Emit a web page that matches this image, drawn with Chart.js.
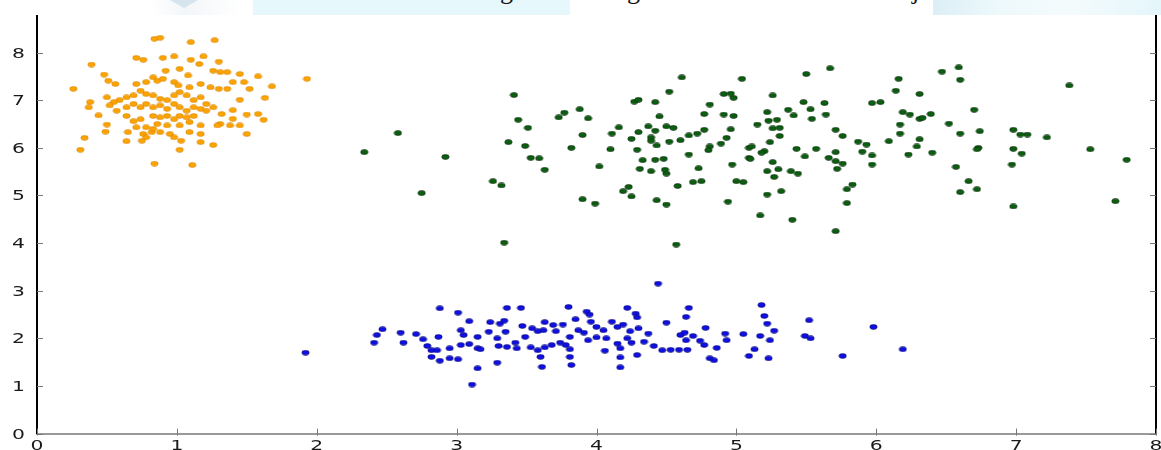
<!DOCTYPE html>
<html>
<head>
<meta charset="utf-8">
<script src="https://cdn.jsdelivr.net/npm/chart.js@4.4.1/dist/chart.umd.min.js"></script>
<style>
  html, body { margin: 0; padding: 0; background: #fff; }
  #wrap { position: relative; width: 1161px; height: 450px; overflow: hidden; }
  #myChart { display: block; }
  #strip { position: absolute; left: 0; top: 0; width: 1161px; height: 15px; background: #fff; }
  #banner1 { position: absolute; left: 253px; top: 0; width: 317px; height: 15px; background: #e6f8fc; }
  #banner2 { position: absolute; left: 933px; top: 0; width: 228px; height: 15px;
             background: linear-gradient(90deg, #dceef6 0%, #eef9fc 30%, #f4fbfc 60%, #e4f6fb 100%); }
  #pale { position: absolute; left: 150px; top: 0; width: 90px; height: 15px;
          background: linear-gradient(90deg, rgba(240,244,248,0) 0%, #f3f6f9 40%, rgba(240,244,248,0) 100%); }
  #arrow { position: absolute; left: 170px; top: 0; width: 0; height: 0;
           border-left: 14px solid transparent; border-right: 14px solid transparent; border-top: 8px solid #d6e4ee; }
  .desc { position: absolute; top: -24px; font: 26px/30px "Liberation Serif", serif; color: #111; }
</style>
</head>
<body>
<div id="wrap">
  <canvas id="myChart" width="1161" height="450"></canvas>
  <div id="strip"></div>
  <div id="pale"></div>
  <div id="arrow"></div>
  <div id="banner1"></div>
  <div id="banner2"></div>
  <span class="desc" style="left:500px">g</span>
  <span class="desc" style="left:627px">g</span>
  <span class="desc" style="left:912px">j</span>
</div>
<script>
// tick labels
const xTicks = [0, 1, 2, 3, 4, 5, 6, 7, 8];
const yTicks = [0, 1, 2, 3, 4, 5, 6, 7, 8];

// cluster points, [x, y]
const orangePts = [
  [0.84,8.29],[0.88,8.31],[1.10,8.22],[1.27,8.26],[0.26,7.24],[0.39,7.75],[0.48,7.54],[0.31,5.96],
  [0.34,6.21],[0.37,6.85],[0.38,6.96],[0.44,6.68],[0.50,6.49],[0.49,6.34],[0.84,5.67],[1.11,5.64],
  [1.02,5.96],[1.26,6.06],[1.50,6.29],[1.63,7.05],[1.68,7.29],[1.58,7.50],[1.45,7.55],[1.62,6.59],
  [1.58,6.71],[1.50,6.70],[1.93,7.45],[1.30,7.81],[1.19,7.92],[1.10,7.85],[0.98,7.92],[0.90,7.89],
  [0.71,7.89],[0.76,7.85],[1.02,7.66],[1.16,7.76],[1.26,7.62],[1.31,7.59],[1.36,7.59],[1.08,7.52],
  [0.92,7.62],[0.83,7.48],[0.56,7.34],[0.51,7.41],[0.71,7.34],[0.78,7.38],[0.86,7.41],[0.90,7.45],
  [0.98,7.38],[1.01,7.31],[1.09,7.27],[1.17,7.34],[1.24,7.27],[1.30,7.24],[1.36,7.24],[1.40,7.38],
  [1.48,7.38],[1.52,7.24],[1.45,7.01],[1.40,6.79],[1.32,6.71],[1.38,6.47],[1.31,6.50],[1.45,6.47],
  [1.26,6.85],[1.21,6.92],[1.17,7.06],[1.12,7.00],[1.07,7.10],[1.02,7.17],[0.98,7.10],[0.93,7.00],
  [0.88,7.03],[0.83,7.10],[0.78,7.13],[0.74,7.20],[0.69,7.10],[0.64,7.06],[0.59,7.00],[0.55,6.96],
  [0.50,7.06],[0.52,6.89],[0.57,6.78],[0.64,6.85],[0.69,6.92],[0.74,6.85],[0.78,6.92],[0.83,6.85],
  [0.88,6.89],[0.93,6.82],[0.98,6.92],[1.02,6.85],[1.07,6.78],[1.12,6.85],[1.17,6.82],[1.21,6.78],
  [1.02,6.67],[1.07,6.64],[1.12,6.67],[0.98,6.60],[0.93,6.67],[0.88,6.64],[0.83,6.67],[0.74,6.60],
  [0.69,6.56],[0.64,6.67],[0.71,6.43],[0.78,6.43],[0.86,6.50],[0.93,6.47],[1.02,6.47],[1.09,6.54],
  [1.17,6.47],[0.65,6.33],[0.76,6.29],[0.82,6.33],[0.88,6.33],[0.95,6.29],[0.98,6.22],[1.03,6.15],
  [1.09,6.33],[1.17,6.29],[1.17,6.12],[0.78,6.22],[0.75,6.15],[0.64,6.14],[0.83,6.40],[1.29,6.47],
  [1.40,6.61]
];

const greenPts = [
  [2.34,5.91],[2.58,6.31],[2.92,5.81],[2.75,5.05],[3.41,7.11],[3.44,6.59],[3.51,6.42],[3.37,6.12],
  [3.49,6.04],[3.53,5.79],[3.59,5.78],[3.63,5.54],[3.26,5.30],[3.32,5.21],[3.34,4.01],[3.73,6.64],
  [3.77,6.74],[3.88,6.81],[3.94,6.62],[3.90,6.27],[3.82,6.00],[4.02,5.61],[3.90,4.92],[3.99,4.83],
  [4.10,5.97],[4.11,6.30],[4.16,6.43],[4.25,6.19],[4.29,5.96],[4.30,6.33],[4.27,6.97],[4.30,7.01],
  [4.42,6.96],[4.52,7.18],[4.61,7.48],[4.45,6.66],[4.37,6.45],[4.42,6.36],[4.50,6.45],[4.55,6.42],
  [4.39,6.22],[4.39,6.15],[4.43,6.05],[4.52,6.13],[4.60,6.16],[4.66,6.26],[4.72,6.30],[4.77,6.38],
  [4.66,5.86],[4.33,5.74],[4.42,5.75],[4.48,5.77],[4.31,5.56],[4.39,5.51],[4.49,5.54],[4.50,5.46],
  [4.73,5.57],[4.58,5.20],[4.69,5.28],[4.75,5.30],[4.23,5.18],[4.19,5.09],[4.25,4.98],[4.43,4.90],
  [4.50,4.81],[4.57,3.97],[4.81,6.91],[4.77,6.71],[4.91,7.13],[4.96,7.14],[4.98,7.05],[5.04,7.45],
  [4.91,6.70],[4.98,6.67],[4.96,6.39],[4.93,6.21],[4.89,6.09],[4.81,6.03],[4.80,5.95],[4.97,5.65],
  [5.00,5.30],[5.05,5.28],[4.94,4.87],[5.09,6.00],[5.09,5.79],
  [5.50,7.55],[5.67,7.67],[5.26,7.10],[5.48,6.96],[5.63,6.94],[5.37,6.80],[5.53,6.81],[5.41,6.68],
  [5.22,6.75],[5.23,6.57],[5.29,6.59],[5.15,6.49],[5.31,6.42],[5.26,6.41],[5.54,6.61],[5.64,6.70],
  [5.71,6.38],[5.76,6.25],[5.31,6.25],[5.11,6.03],[5.24,6.12],[5.20,5.93],[5.18,5.90],[5.10,5.77],
  [5.26,5.70],[5.22,5.51],[5.30,5.55],[5.27,5.39],[5.39,5.51],[5.44,5.46],[5.32,5.09],[5.22,5.02],
  [5.17,4.58],[5.40,4.49],[5.43,5.98],[5.49,5.82],[5.57,5.98],[5.71,5.91],[5.66,5.79],[5.71,5.72],
  [5.76,5.67],[5.72,5.56],[5.71,4.25],[5.79,5.13],[5.83,5.23],[5.79,4.84],[5.87,6.13],[5.93,6.07],
  [5.90,5.92],[5.97,5.84],[5.97,5.65],[5.97,6.94],[6.03,6.96],[6.09,6.14],[6.17,6.30],[6.17,6.49],
  [6.19,6.75],[6.24,6.70],[6.31,6.61],[6.33,6.63],[6.39,6.71],[6.14,7.20],[6.16,7.45],[6.31,7.13],
  [6.31,6.18],[6.29,6.03],[6.23,5.86],[6.40,5.90],[6.47,7.60],[6.59,7.69],[6.60,7.43],[6.52,6.51],
  [6.70,6.80],[6.60,6.30],[6.74,6.35],[6.73,6.00],[6.72,5.97],[6.57,5.60],[6.66,5.30],[6.72,5.13],
  [6.60,5.07],[6.98,6.38],[7.03,6.28],[7.08,6.28],[7.22,6.22],[6.98,5.98],[7.04,5.88],[6.97,5.65],
  [6.98,4.77],[7.38,7.31],[7.53,5.97],[7.79,5.75],[7.71,4.88]
];

const bluePts = [
  [1.92,1.70],[4.44,3.15],[2.88,2.63],[3.01,2.54],[3.09,2.36],[3.36,2.64],[3.46,2.64],[3.80,2.66],
  [3.93,2.56],[3.95,2.50],[4.22,2.64],[4.28,2.52],[4.29,2.44],[4.66,2.64],[4.64,2.45],[4.50,2.33],
  [3.85,2.40],[3.63,2.34],[3.24,2.34],[3.31,2.31],[3.34,2.37],[2.47,2.19],[2.43,2.07],[2.41,1.91],
  [2.60,2.12],[2.62,1.91],[2.71,2.09],[2.76,1.98],[2.87,2.03],[2.79,1.84],[2.82,1.75],[2.86,1.75],
  [2.82,1.61],[2.88,1.53],[2.95,1.79],[2.95,1.58],[3.01,1.56],[3.03,2.17],[3.05,2.07],[3.03,1.86],
  [3.09,1.88],[3.15,2.03],[3.15,1.79],[3.17,1.77],[3.15,1.37],[3.11,1.03],[3.23,2.14],[3.29,2.00],
  [3.35,2.14],[3.30,1.84],[3.36,1.82],[3.42,1.91],[3.43,1.79],[3.29,1.49],[3.47,2.26],[3.49,2.03],
  [3.54,2.21],[3.58,2.15],[3.62,2.17],[3.53,1.81],[3.58,1.75],[3.60,1.61],[3.61,1.40],[3.63,1.81],
  [3.68,1.86],[3.69,2.28],[3.71,2.15],[3.76,2.29],[3.74,1.91],[3.78,1.86],[3.81,1.77],[3.81,1.61],
  [3.82,1.44],[3.81,2.03],[3.87,2.17],[3.91,2.12],[3.96,2.35],[4.00,2.24],[4.05,2.17],[4.11,2.35],
  [4.15,2.24],[4.19,2.29],[4.24,2.15],[4.30,2.21],[3.94,1.96],[4.00,2.02],[4.07,2.00],[4.06,1.74],
  [4.15,1.89],[4.17,1.79],[4.17,1.60],[4.17,1.39],[4.22,2.00],[4.25,1.91],[4.29,1.65],[4.34,1.93],
  [4.37,2.10],[4.41,1.84],[4.47,1.75],[4.53,1.76],[4.59,1.76],[4.65,1.76],[4.60,2.07],[4.63,2.12],
  [4.69,2.05],[4.64,1.96],[4.78,2.22],[4.74,1.95],[4.77,1.86],[4.86,1.80],[4.81,1.58],[4.84,1.54],
  [4.92,2.10],[4.93,1.96],[5.05,2.09],[5.13,1.77],[5.09,1.63],[5.18,2.70],[5.20,2.47],[5.22,2.31],
  [5.27,2.16],[5.17,2.05],[5.24,1.96],[5.23,1.58],[5.52,2.38],[5.49,2.05],[5.53,2.00],[5.76,1.63],
  [5.98,2.24],[6.19,1.77]
];

function toXY(pts) {
  return pts.map(p => ({ x: p[0], y: p[1] }));
}

// small squashed dot, like the stretched scatter markers in the picture
function dot(fill, edge) {
  const c = document.createElement('canvas');
  c.width = 9; c.height = 6;
  const g = c.getContext('2d');
  g.beginPath();
  g.ellipse(4.5, 3, 3.7, 2.4, 0, 0, Math.PI * 2);
  g.fillStyle = fill;
  g.fill();
  g.lineWidth = 0.8;
  g.strokeStyle = edge;
  g.stroke();
  return c;
}

// right spine, inward ticks and the (horizontally stretched) tick labels
const frame = {
  id: 'frame',
  afterDraw(chart) {
    const ctx = chart.ctx;
    const a = chart.chartArea;
    const xs = chart.scales.x, ys = chart.scales.y;
    ctx.save();
    ctx.strokeStyle = '#000';
    ctx.lineWidth = 2;
    ctx.beginPath();
    ctx.moveTo(a.right, a.top);
    ctx.lineTo(a.right, a.bottom);
    ctx.stroke();

    ctx.strokeStyle = '#777';
    ctx.lineWidth = 1;
    ctx.beginPath();
    yTicks.forEach(v => {
      const py = Math.round(ys.getPixelForValue(v)) + 0.5;
      ctx.moveTo(a.left, py); ctx.lineTo(a.left + 6, py);
      ctx.moveTo(a.right - 6, py); ctx.lineTo(a.right, py);
    });
    xTicks.forEach(v => {
      const px = Math.round(xs.getPixelForValue(v)) + 0.5;
      ctx.moveTo(px, a.bottom - 5); ctx.lineTo(px, a.bottom + 2);
    });
    ctx.stroke();

    const sx = 1.45;
    ctx.fillStyle = '#1a1a1a';
    ctx.font = '14px "DejaVu Sans"';
    ctx.textBaseline = 'alphabetic';
    ctx.textAlign = 'right';
    yTicks.forEach(v => {
      const py = ys.getPixelForValue(v);
      ctx.save();
      ctx.translate(25, py + 5);
      ctx.scale(sx, 1);
      ctx.fillText(String(v), 0, 0);
      ctx.restore();
    });
    ctx.textAlign = 'center';
    xTicks.forEach(v => {
      const px = xs.getPixelForValue(v);
      ctx.save();
      ctx.translate(px, 450);
      ctx.scale(sx, 1);
      ctx.fillText(String(v), 0, 0);
      ctx.restore();
    });
    ctx.restore();
  }
};

const ctx = document.getElementById('myChart').getContext('2d');
const myChart = new Chart(ctx, {
  type: 'scatter',
  data: {
    datasets: [
      { label: 'orange', data: toXY(orangePts), pointStyle: dot('#ffa500', 'rgba(200,120,0,0.6)') },
      { label: 'green', data: toXY(greenPts), pointStyle: dot('#0b6010', 'rgba(20,45,20,0.85)') },
      { label: 'blue', data: toXY(bluePts), pointStyle: dot('#1010e6', 'rgba(10,10,90,0.7)') }
    ]
  },
  options: {
    responsive: false,
    animation: false,
    layout: { padding: { top: 4.3, right: 5, left: 0, bottom: 0 } },
    plugins: { legend: { display: false }, tooltip: { enabled: false } },
    scales: {
      x: {
        type: 'linear', min: 0, max: 8,
        afterFit: s => { s.height = 16.4; },
        grid: { display: false, drawTicks: false },
        border: { color: '#999', width: 2 },
        ticks: { display: false, stepSize: 1 }
      },
      y: {
        min: 0, max: 9,
        afterFit: s => { s.width = 37; },
        grid: { display: false, drawTicks: false },
        border: { color: '#000', width: 2 },
        ticks: { display: false, stepSize: 1 }
      }
    }
  },
  plugins: [frame]
});
</script>
</body>
</html>
